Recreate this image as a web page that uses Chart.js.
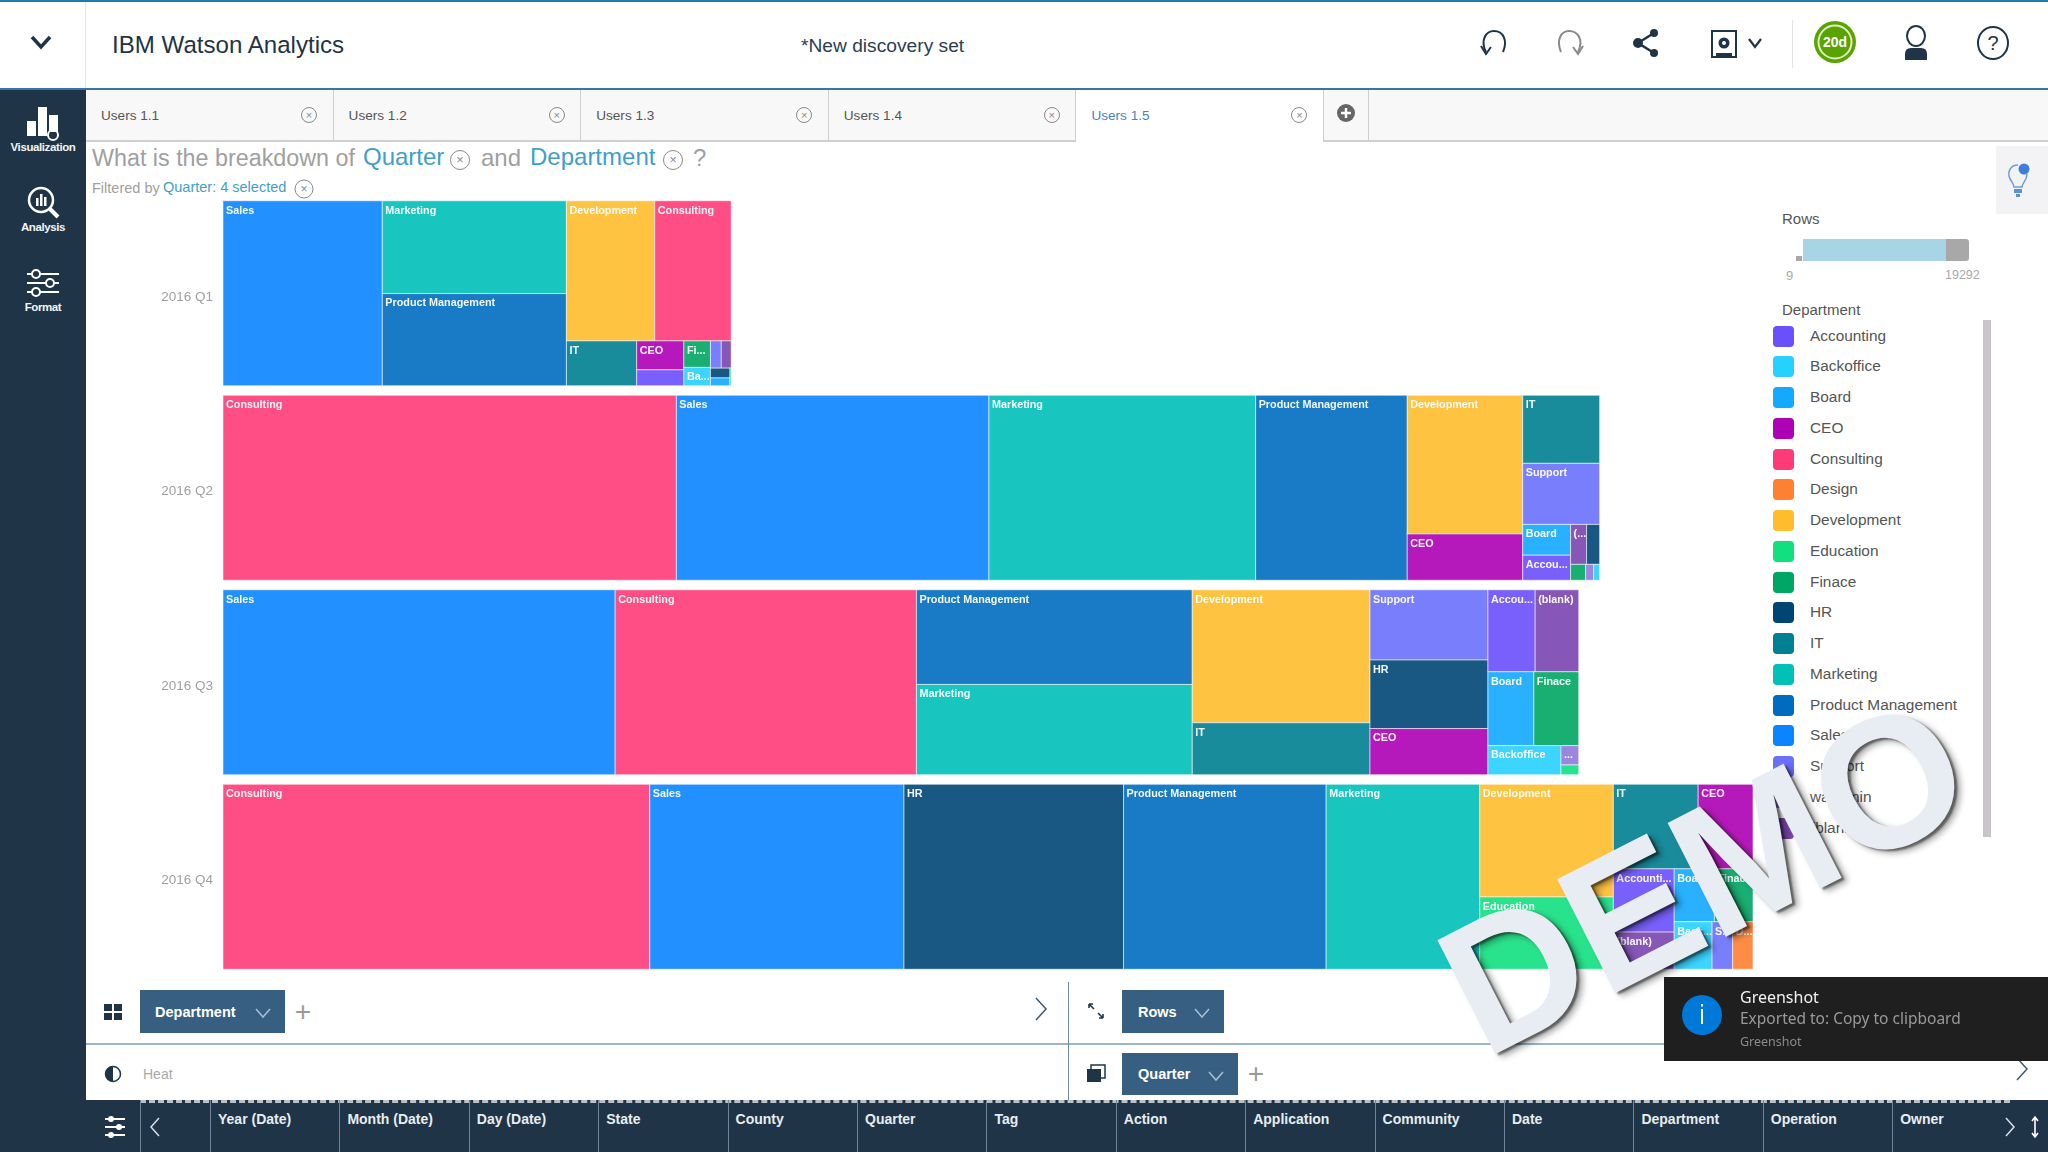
<!DOCTYPE html>
<html>
<head>
<meta charset="utf-8">
<title>IBM Watson Analytics</title>
<script src="https://cdn.jsdelivr.net/npm/chart.js@4/dist/chart.umd.js"></script>
<style>
html, body { margin: 0; padding: 0; background: #fff; }
body { position: relative; width: 2048px; height: 1152px; overflow: hidden; font-family: "Liberation Sans", Arial, sans-serif; }
.box { position: absolute; }
.t { position: absolute; white-space: nowrap; transform: translateY(-50%); }
.c { transform: translate(-50%, -50%); text-align: center; }
svg { position: absolute; overflow: visible; }
.close { position: absolute; width: 16px; height: 16px; border: 1px solid #8a8a8a; border-radius: 50%; box-sizing: border-box; color: #8a8a8a; font-size: 11px; line-height: 14px; text-align: center; transform: translate(-50%, -50%); }
.pill { position: absolute; background: #375f82; color: #fff; font-size: 14.5px; font-weight: bold; box-sizing: border-box; }
.pill span { position: absolute; top: 50%; transform: translateY(-50%); }
.pill svg { top: 18px; }
.plus { position: absolute; color: #999; font-size: 28px; font-weight: normal; transform: translate(-50%, -50%); }
#chart-wrap { position: absolute; left: 88px; top: 196px; width: 1665px; height: 778px; }
#demo { position: absolute; left: 1704px; top: 876px; transform: translate(-50%, -50%) rotate(-27deg); font-size: 186px; font-weight: bold; color: #e8edf3; white-space: nowrap; text-shadow: 2px 3px 2px rgba(0,0,0,.45), 4px 6px 6px rgba(0,0,0,.35); line-height: 1; }
</style>
</head>
<body>

<!-- header -->
<div class="box" style="left:0;top:0;width:2048px;height:2px;background:#1a7fa8"></div>
<div class="box" style="left:85px;top:2px;width:1px;height:86px;background:#e4e4e4"></div>
<div class="box" style="left:0;top:88px;width:2048px;height:2px;background:#3b72a8"></div>
<svg style="left:30px;top:35px" width="22" height="14"><path d="M2 2 L11 12 L20 2" fill="none" stroke="#1f3447" stroke-width="3.5"/></svg>
<div class="t" style="left:112px;top:45px;font-size:24.1px;color:#1f3447">IBM Watson Analytics</div>
<div class="t" style="left:801px;top:46px;font-size:19.2px;color:#2c3e50">*New discovery set</div>

<svg style="left:1478px;top:28px" width="32" height="30"><path d="M8 24 C2 12 8 3 16 3 C25 3 30 12 25 24" fill="none" stroke="#1f3447" stroke-width="2"/><path d="M3 18 L8 26 L13 19" fill="none" stroke="#1f3447" stroke-width="2"/></svg>
<svg style="left:1554px;top:28px" width="32" height="30"><path d="M7 24 C2 12 7 3 15 3 C24 3 30 12 24 24" fill="none" stroke="#8a8a8a" stroke-width="2"/><path d="M19 19 L24 26 L29 18" fill="none" stroke="#8a8a8a" stroke-width="2"/></svg>
<svg style="left:1632px;top:28px" width="28" height="30"><path d="M22 5 L6 15 L22 25" fill="none" stroke="#1f3447" stroke-width="2.5"/><circle cx="22" cy="5" r="4" fill="#1f3447"/><circle cx="6" cy="15" r="5" fill="#1f3447"/><circle cx="22" cy="25" r="4" fill="#1f3447"/></svg>
<svg style="left:1710px;top:29px" width="60" height="30"><rect x="2" y="2" width="24" height="26" fill="none" stroke="#1f3447" stroke-width="2"/><circle cx="14" cy="14" r="5.5" fill="#1f3447"/><circle cx="14" cy="14" r="2" fill="#fff"/><rect x="6" y="24" width="16" height="4" fill="#1f3447"/><path d="M39 10 L45 18 L51 10" fill="none" stroke="#1f3447" stroke-width="2.2"/></svg>
<div class="box" style="left:1792px;top:20px;width:1px;height:48px;background:#e2e2e2"></div>
<svg style="left:1814px;top:21px" width="42" height="42"><circle cx="21" cy="21" r="21" fill="#5ba300"/><circle cx="21" cy="21" r="16.5" fill="none" stroke="#dcefc4" stroke-width="2"/></svg>
<div class="t c" style="left:1835px;top:42px;font-size:14px;font-weight:bold;color:#fff">20d</div>
<svg style="left:1902px;top:26px" width="28" height="34"><ellipse cx="14" cy="10" rx="9" ry="10" fill="none" stroke="#1f3447" stroke-width="2"/><path d="M3 34 L3 28 Q3 22 9 22 L19 22 Q25 22 25 28 L25 34 Z" fill="#1f3447"/></svg>
<svg style="left:1977px;top:26px" width="32" height="34"><ellipse cx="16" cy="17" rx="15" ry="16" fill="none" stroke="#1f3447" stroke-width="2"/></svg>
<div class="t c" style="left:1993px;top:43px;font-size:20px;color:#1f3447">?</div>

<!-- sidebar -->
<div class="box" style="left:0;top:90px;width:86px;height:1062px;background:#1f3447"></div>
<svg style="left:24px;top:105px" width="40" height="36"><rect x="3" y="16" width="9" height="15" fill="#fff"/><rect x="14" y="2" width="9" height="29" fill="#fff"/><rect x="25" y="10" width="9" height="17" fill="#fff"/><circle cx="29" cy="30" r="5" fill="none" stroke="#fff" stroke-width="2"/></svg>
<div class="t c" style="left:43px;top:147px;font-size:11.5px;font-weight:bold;letter-spacing:-.4px;color:#f2f4f6">Visualization</div>
<svg style="left:24px;top:184px" width="40" height="36"><circle cx="17" cy="16" r="12" fill="none" stroke="#fff" stroke-width="2.5"/><path d="M26 25 L34 33" stroke="#fff" stroke-width="4"/><rect x="12" y="14" width="2.5" height="8" fill="#fff"/><rect x="16" y="10" width="2.5" height="12" fill="#fff"/><rect x="20" y="13" width="2.5" height="9" fill="#fff"/></svg>
<div class="t c" style="left:43px;top:227px;font-size:11.5px;font-weight:bold;letter-spacing:-.4px;color:#f2f4f6">Analysis</div>
<svg style="left:24px;top:268px" width="40" height="30"><g stroke="#fff" stroke-width="2"><path d="M3 6 H35 M3 15 H35 M3 24 H35"/></g><circle cx="12" cy="6" r="4" fill="#1f3447" stroke="#fff" stroke-width="2"/><circle cx="26" cy="15" r="4" fill="#1f3447" stroke="#fff" stroke-width="2"/><circle cx="12" cy="24" r="4" fill="#1f3447" stroke="#fff" stroke-width="2"/></svg>
<div class="t c" style="left:43px;top:307px;font-size:11.5px;font-weight:bold;letter-spacing:-.4px;color:#f2f4f6">Format</div>

<!-- tabs, filled from script -->
<div id="tabs" class="box" style="left:86px;top:90px;width:1962px;height:50px;background:#f8f8f8;border-bottom:2px solid #cfcfcf"></div>

<!-- question -->
<div class="t" style="left:92px;top:158px;font-size:23.3px;color:#a0a0a0">What is the breakdown of</div>
<div class="t" style="left:363px;top:157px;font-size:24px;color:#3f9fca">Quarter</div>
<div class="close" style="left:460px;top:160px;width:20px;height:20px;line-height:18px;font-size:13px">×</div>
<div class="t" style="left:481px;top:158px;font-size:24px;color:#a0a0a0">and</div>
<div class="t" style="left:530px;top:157px;font-size:24px;color:#3f9fca">Department</div>
<div class="close" style="left:673px;top:160px;width:20px;height:20px;line-height:18px;font-size:13px">×</div>
<div class="t" style="left:693px;top:158px;font-size:24px;color:#a0a0a0">?</div>
<div class="t" style="left:92px;top:188px;font-size:14.5px;color:#a0a0a0">Filtered by</div>
<div class="t" style="left:163px;top:187px;font-size:14.5px;color:#3f9fca">Quarter: 4 selected</div>
<div class="close" style="left:304px;top:189px;width:19px;height:19px;line-height:17px;font-size:12px">×</div>

<div class="box" style="left:1996px;top:146px;width:52px;height:68px;background:#f3f3f5"></div>
<svg style="left:2006px;top:163px" width="26" height="36"><path d="M12 2 C4 2 2 9 3 13 C4 18 8 20 8 24 L16 24 C16 20 21 18 21 11" fill="none" stroke="#6b9ed8" stroke-width="1.5"/><circle cx="18" cy="6" r="5.5" fill="#3f7fdc"/><rect x="8" y="26" width="8" height="4" fill="#5b8fd8"/><rect x="10" y="31" width="4" height="3" fill="#5b8fd8"/></svg>

<!-- chart -->
<div id="chart-wrap"><canvas id="chart"></canvas></div>

<!-- rows slider -->
<div class="t" style="left:1782px;top:218px;font-size:15px;color:#555">Rows</div>
<div class="box" style="left:1796px;top:256px;width:6px;height:5px;background:#a8a8a8"></div>
<div class="box" style="left:1803px;top:239px;width:143px;height:22px;background:#a8d5e5"></div>
<div class="box" style="left:1946px;top:239px;width:23px;height:22px;background:#a8a8a8;border-radius:0 3px 3px 0"></div>
<div class="t" style="left:1786px;top:275px;font-size:13px;color:#aaa">9</div>
<div class="t" style="left:1945px;top:275px;font-size:12.5px;color:#aaa">19292</div>

<!-- legend, filled from script -->
<div class="t" style="left:1782px;top:309px;font-size:15px;color:#555">Department</div>
<div class="box" style="left:1983px;top:320px;width:8px;height:517px;background:#c8c6ca"></div>
<div id="legend"></div>

<!-- bottom config -->
<div class="box" style="left:86px;top:1043px;width:1962px;height:2px;background:#9db5c8"></div>
<div class="box" style="left:1068px;top:982px;width:1px;height:118px;background:#6d8aa3"></div>
<svg style="left:104px;top:1004px" width="18" height="16"><g fill="#1f3447"><rect x="0" y="0" width="8" height="7"/><rect x="10" y="0" width="8" height="7"/><rect x="0" y="9" width="8" height="7"/><rect x="10" y="9" width="8" height="7"/></g></svg>
<div class="pill" style="left:140px;top:990px;width:145px;height:43px"><span style="left:15px">Department</span><svg style="left:115px" width="16" height="10"><path d="M1 1 L8 9 L15 1" fill="none" stroke="#a9c0d4" stroke-width="1.5"/></svg></div>
<div class="plus" style="left:303px;top:1012px">+</div>
<svg style="left:1034px;top:997px" width="14" height="24"><path d="M2 1 L12 12 L2 23" fill="none" stroke="#3f5a72" stroke-width="1.5"/></svg>
<svg style="left:1087px;top:1002px" width="18" height="18"><path d="M2 2 L7 7 M2 2 L2 6 M2 2 L6 2 M16 16 L11 11 M16 16 L16 12 M16 16 L12 16" stroke="#1f3447" stroke-width="1.6" fill="none"/></svg>
<div class="pill" style="left:1122px;top:990px;width:102px;height:43px"><span style="left:16px">Rows</span><svg style="left:72px" width="16" height="10"><path d="M1 1 L8 9 L15 1" fill="none" stroke="#a9c0d4" stroke-width="1.5"/></svg></div>
<svg style="left:104px;top:1065px" width="18" height="18"><circle cx="9" cy="9" r="7.5" fill="#fff" stroke="#1f3447" stroke-width="1.5"/><path d="M9 1.5 A7.5 7.5 0 0 0 9 16.5 Z" fill="#1f3447"/></svg>
<div class="t" style="left:143px;top:1074px;font-size:14px;color:#aaa">Heat</div>
<svg style="left:1087px;top:1065px" width="20" height="18"><rect x="4" y="0" width="14" height="13" fill="#fff" stroke="#1f3447" stroke-width="1.5"/><rect x="0" y="4" width="14" height="13" fill="#1f3447"/></svg>
<div class="pill" style="left:1122px;top:1053px;width:116px;height:42px"><span style="left:16px">Quarter</span><svg style="left:86px" width="16" height="10"><path d="M1 1 L8 9 L15 1" fill="none" stroke="#a9c0d4" stroke-width="1.5"/></svg></div>
<div class="plus" style="left:1256px;top:1074px">+</div>
<svg style="left:2015px;top:1057px" width="14" height="24"><path d="M2 1 L12 12 L2 23" fill="none" stroke="#3f5a72" stroke-width="1.5"/></svg>

<!-- field strip, filled from script -->
<div id="fields" class="box" style="left:86px;top:1100px;width:1962px;height:52px;background:#1f3447"></div>

<!-- watermark and toast -->
<div id="demo">DEMO</div>
<div class="box" style="left:1664px;top:977px;width:384px;height:84px;background:#1f1f1f"></div>
<svg style="left:1682px;top:995px" width="40" height="40"><circle cx="20" cy="20" r="20" fill="#0078d7"/><rect x="19" y="14" width="2" height="15" fill="#fff"/><rect x="19" y="9" width="2" height="2.5" fill="#fff"/></svg>
<div class="t" style="left:1740px;top:997px;font-size:16px;color:#f2f2f2;font-family:'Noto Sans'">Greenshot</div>
<div class="t" style="left:1740px;top:1018px;font-size:15.5px;color:#9a9a9a;font-family:'Noto Sans'">Exported to: Copy to clipboard</div>
<div class="t" style="left:1740px;top:1041px;font-size:12.5px;color:#8a8a8a;font-family:'Noto Sans'">Greenshot</div>

<script>
const quarters = ["2016 Q1", "2016 Q2", "2016 Q3", "2016 Q4"];
const departments = [
  "Accounting", "Backoffice", "Board", "CEO", "Consulting", "Design",
  "Development", "Education", "Finace", "HR", "IT", "Marketing",
  "Product Management", "Sales", "Support", "waadmin", "(blank)",
];

// rows per department, same order as departments
const rowsQ1 = [173, 112, 35, 314, 2464, 0, 2848, 5, 162, 44, 725, 3931, 3903, 6779, 68, 0, 62];
const rowsQ2 = [276, 22, 339, 1228, 19292, 0, 3685, 0, 55, 120, 1205, 11350, 6450, 13300, 1081, 29, 147];
const rowsQ3 = [890, 489, 780, 1253, 12820, 0, 5438, 40, 763, 1860, 2126, 5729, 6008, 16687, 1906, 79, 822];
const rowsQ4 = [885, 414, 489, 1067, 18160, 222, 3464, 2221, 470, 9344, 1650, 6536, 8620, 10818, 225, 0, 520];
const rowsByQuarter = [rowsQ1, rowsQ2, rowsQ3, rowsQ4];

const colors = [
  "#6a4ffc", "#26d0ff", "#12a9ff", "#ae00b4", "#ff3a78", "#ff8030",
  "#ffbd2e", "#12e080", "#00a664", "#004674", "#008090", "#00c0b8",
  "#006cc0", "#0a84ff", "#6a70fc", "#8f78de", "#7a45b0",
];

const tabNames = ["Users 1.1", "Users 1.2", "Users 1.3", "Users 1.4", "Users 1.5"];
const fieldNames = [
  "Year (Date)", "Month (Date)", "Day (Date)", "State", "County", "Quarter", "Tag",
  "Action", "Application", "Community", "Date", "Department", "Operation", "Owner",
];

// tabs
const tabs = document.querySelector("#tabs");
tabNames.forEach((name, i) => {
  const tab = document.createElement("div");
  const active = i === 4;
  tab.className = "box";
  tab.style.cssText = `left:${i * 247.6}px;top:0;width:247.6px;height:${active ? 52 : 50}px;box-sizing:border-box;border-right:1px solid #cfcfcf;${active ? "background:#fff" : ""}`;
  tab.innerHTML = `<div class="t" style="left:15px;top:25px;font-size:13.6px;color:${active ? "#4d7fc0" : "#555"}">${name}</div><div class="close" style="left:223px;top:25px">×</div>`;
  tabs.appendChild(tab);
});
const addTab = document.createElement("div");
addTab.className = "box";
addTab.style.cssText = "left:1238px;top:0;width:45px;height:50px;box-sizing:border-box;border-right:1px solid #cfcfcf";
addTab.innerHTML = '<svg style="left:13px;top:14px" width="18" height="18"><circle cx="9" cy="9" r="9" fill="#666"/><path d="M9 4 V14 M4 9 H14" stroke="#fff" stroke-width="2.5"/></svg>';
tabs.appendChild(addTab);

// legend list
const legend = document.querySelector("#legend");
departments.forEach((name, i) => {
  const top = 336 + i * 30.75;
  legend.innerHTML += `<div class="box" style="left:1773px;top:${top - 10.5}px;width:21px;height:21px;border-radius:4px;background:${colors[i]}"></div>`
    + `<div class="t" style="left:1810px;top:${top - 0.5}px;font-size:15.4px;color:#555">${name}</div>`;
});

// field strip
const fields = document.querySelector("#fields");
let strip = '<div class="box" style="left:54px;top:0;width:1870px;height:0;border-top:3px dashed #b9c0c6"></div>';
strip += '<div class="box" style="left:54px;top:0;width:1px;height:52px;background:#70859a"></div>';
strip += '<svg style="left:18px;top:14px" width="26" height="26"><g stroke="#fff" stroke-width="2"><path d="M1 5 H21 M1 13 H21 M1 21 H21"/></g><circle cx="7" cy="5" r="3" fill="#fff"/><circle cx="15" cy="13" r="3" fill="#fff"/><circle cx="7" cy="21" r="3" fill="#fff"/></svg>';
strip += '<svg style="left:63px;top:17px" width="12" height="20"><path d="M10 1 L2 10 L10 19" fill="none" stroke="#d8e0e6" stroke-width="1.5"/></svg>';
fieldNames.forEach((name, i) => {
  const left = 124 + i * 129.4;
  strip += `<div class="box" style="left:${left}px;top:0;width:1px;height:52px;background:#70859a"></div>`;
  strip += `<div class="t" style="left:${left + 8}px;top:19px;font-size:14px;font-weight:bold;color:#e8edf1">${name}</div>`;
});
strip += '<svg style="left:1918px;top:17px" width="12" height="20"><path d="M2 1 L10 10 L2 19" fill="none" stroke="#d8e0e6" stroke-width="1.5"/></svg>';
strip += '<svg style="left:1944px;top:16px" width="10" height="22"><path d="M5 2 V20 M2 5 L5 1 L8 5 M2 17 L5 21 L8 17" fill="none" stroke="#fff" stroke-width="1.6"/></svg>';
fields.innerHTML = strip;

// same layout as d3 squarify with golden ratio target
function squarify(cells, x0, y0, x1, y1) {
  const ratio = (1 + Math.sqrt(5)) / 2;
  let value = cells.reduce((sum, c) => sum + c.value, 0);
  let i0 = 0;
  let i1 = 0;
  while (i0 < cells.length) {
    const dx = x1 - x0;
    const dy = y1 - y0;
    let sumValue = cells[i1++].value;
    let minValue = sumValue;
    let maxValue = sumValue;
    const alpha = Math.max(dy / dx, dx / dy) / (value * ratio);
    let beta = sumValue * sumValue * alpha;
    let minRatio = Math.max(maxValue / beta, beta / minValue);
    for (; i1 < cells.length; i1++) {
      const v = cells[i1].value;
      sumValue += v;
      minValue = Math.min(minValue, v);
      maxValue = Math.max(maxValue, v);
      beta = sumValue * sumValue * alpha;
      const newRatio = Math.max(maxValue / beta, beta / minValue);
      if (newRatio > minRatio) {
        sumValue -= v;
        break;
      }
      minRatio = newRatio;
    }
    const row = cells.slice(i0, i1);
    if (dx < dy) {
      const h = (dy * sumValue) / value;
      let x = x0;
      row.forEach((c) => {
        const w = (dx * c.value) / sumValue;
        Object.assign(c, { x, y: y0, w, h });
        x += w;
      });
      y0 += h;
    } else {
      const w = (dx * sumValue) / value;
      let y = y0;
      row.forEach((c) => {
        const h = (dy * c.value) / sumValue;
        Object.assign(c, { x: x0, y, w, h });
        y += h;
      });
      x0 += w;
    }
    value -= sumValue;
    i0 = i1;
  }
  return cells;
}

function fitLabel(ctx, name, width) {
  if (ctx.measureText(name).width <= width) return name;
  let n = name.length - 1;
  while (n > 0 && ctx.measureText(name.slice(0, n) + "...").width > width) n--;
  return n > 0 ? name.slice(0, n) + "..." : "...";
}

// the stacked bars give each quarter its length, this splits them into treemap cells
const treemapCells = {
  id: "treemapCells",
  beforeDatasetsDraw(chart) {
    const { ctx } = chart;
    const x = chart.scales.x;
    quarters.forEach((q, qi) => {
      const bar = chart.getDatasetMeta(0).data[qi];
      const rows = rowsByQuarter[qi];
      const total = rows.reduce((a, b) => a + b, 0);
      const cells = departments
        .map((name, i) => ({ name, color: colors[i], value: rows[i] }))
        .filter((c) => c.value > 0)
        .sort((a, b) => b.value - a.value);
      squarify(cells, x.getPixelForValue(0), bar.y - bar.height / 2, x.getPixelForValue(total), bar.y + bar.height / 2);
      ctx.save();
      ctx.font = 'bold 10.8px "Liberation Sans"';
      ctx.textBaseline = "top";
      cells.forEach((c) => {
        ctx.globalAlpha = 0.9;
        ctx.fillStyle = c.color;
        ctx.fillRect(c.x, c.y, c.w, c.h);
        ctx.globalAlpha = 0.55;
        ctx.strokeStyle = "#fff";
        ctx.lineWidth = 1;
        ctx.strokeRect(c.x, c.y, c.w, c.h);
        ctx.globalAlpha = 0.95;
        if (c.w >= 15 && c.h >= 18) {
          ctx.fillStyle = "#fff";
          ctx.fillText(fitLabel(ctx, c.name, c.w - 3), c.x + 3, c.y + 4.5);
        }
      });
      ctx.restore();
    });
    return false;
  },
};

const chart = document.querySelector("#chart").getContext("2d");
const totals = rowsByQuarter.map((rows) => rows.reduce((a, b) => a + b, 0));

new Chart(chart, {
  type: "bar",
  data: {
    labels: quarters,
    datasets: departments.map((name, i) => ({
      label: name,
      data: rowsByQuarter.map((rows) => rows[i]),
      backgroundColor: colors[i],
      barPercentage: 0.951,
      categoryPercentage: 1,
    })),
  },
  options: {
    indexAxis: "y",
    responsive: true,
    maintainAspectRatio: false,
    animation: false,
    layout: { padding: 0 },
    plugins: { legend: { display: false }, tooltip: { enabled: false } },
    scales: {
      x: { stacked: true, display: false, min: 0, max: Math.max(...totals) },
      y: {
        stacked: true,
        grid: { display: false, drawTicks: false },
        border: { display: false },
        ticks: { color: "#a0a0a0", padding: 10, labelOffset: 4, font: { size: 13.5, family: "Liberation Sans" } },
        afterFit(scale) {
          scale.width = 135;
          scale.paddingTop = 0;
          scale.paddingBottom = 0;
        },
      },
    },
  },
  plugins: [treemapCells],
});
</script>
</body>
</html>
